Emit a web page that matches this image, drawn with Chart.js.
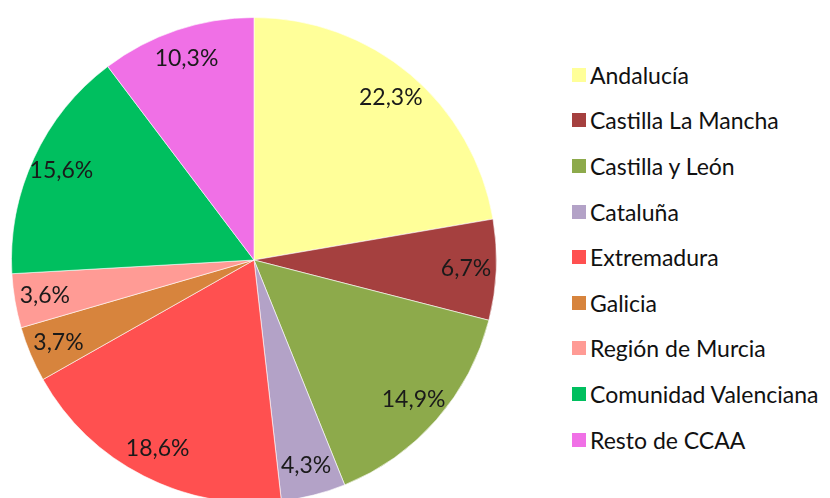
<!DOCTYPE html>
<html>
<head>
<meta charset="utf-8">
<script src="https://cdn.jsdelivr.net/npm/chart.js@4.4.1/dist/chart.umd.min.js"></script>
<style>
    html, body { margin: 0; padding: 0; background: #fff; overflow: hidden; }
    body { width: 830px; height: 498px; position: relative; }
    #pie-wrap { position: absolute; left: 11px; top: 17px; width: 486px; height: 486px; }
    #legend { position: absolute; left: 572px; top: 52px; margin: 0; padding: 0; list-style: none;
              font-family: Lato, "Open Sans", sans-serif; font-size: 23px; color: #111; }
    #legend li { height: 45.6px; display: flex; align-items: center; white-space: nowrap; }
    #legend span.box { display: inline-block; width: 14px; height: 14px; margin-right: 4px; }
</style>
</head>
<body>
<div id="pie-wrap"><canvas id="pie"></canvas></div>
<ul id="legend"></ul>
<script>
// Regions and their share (%)
const regions = ['Andalucía', 'Castilla La Mancha', 'Castilla y León', 'Cataluña', 'Extremadura',
                 'Galicia', 'Región de Murcia', 'Comunidad Valenciana', 'Resto de CCAA'];
const shares = [22.3, 6.7, 14.9, 4.3, 18.6, 3.7, 3.6, 15.6, 10.3];
const sliceColors = ['#FFFF99', '#A5403F', '#8DAA4B', '#B3A2C7', '#FF5050',
                     '#D7843D', '#FF9B95', '#00BF5F', '#F070E6'];

// Percent labels drawn inside each slice
const sliceLabels = {
    id: 'sliceLabels',
    afterDatasetsDraw(chart) {
        const ctx = chart.ctx;
        const arcs = chart.getDatasetMeta(0).data;
        ctx.save();
        ctx.font = '23px Lato, "Open Sans", sans-serif';
        ctx.fillStyle = '#1a1a1a';
        ctx.textAlign = 'center';
        ctx.textBaseline = 'middle';
        arcs.forEach(function(arc, i) {
            const p = arc.getProps(['x', 'y', 'startAngle', 'endAngle', 'outerRadius'], true);
            const mid = (p.startAngle + p.endAngle) / 2;
            const r = p.outerRadius * 0.875;
            const text = shares[i].toFixed(1).replace('.', ',') + '%';
            ctx.fillText(text, p.x + Math.cos(mid) * r, p.y + Math.sin(mid) * r);
        });
        ctx.restore();
    }
};

new Chart(document.getElementById('pie'), {
    type: 'pie',
    data: {
        labels: regions,
        datasets: [{
            data: shares,
            backgroundColor: sliceColors,
            borderColor: 'rgba(255,255,255,0.6)',
            borderWidth: 1
        }]
    },
    options: {
        responsive: true,
        maintainAspectRatio: false,
        animation: false,
        layout: { padding: 0 },
        plugins: {
            legend: { display: false },
            tooltip: { enabled: false }
        }
    },
    plugins: [sliceLabels]
});

// Legend list on the right
const legend = document.getElementById('legend');
regions.forEach(function(name, i) {
    const li = document.createElement('li');
    const box = document.createElement('span');
    box.className = 'box';
    box.style.background = sliceColors[i];
    li.appendChild(box);
    li.appendChild(document.createTextNode(name));
    legend.appendChild(li);
});
</script>
</body>
</html>
